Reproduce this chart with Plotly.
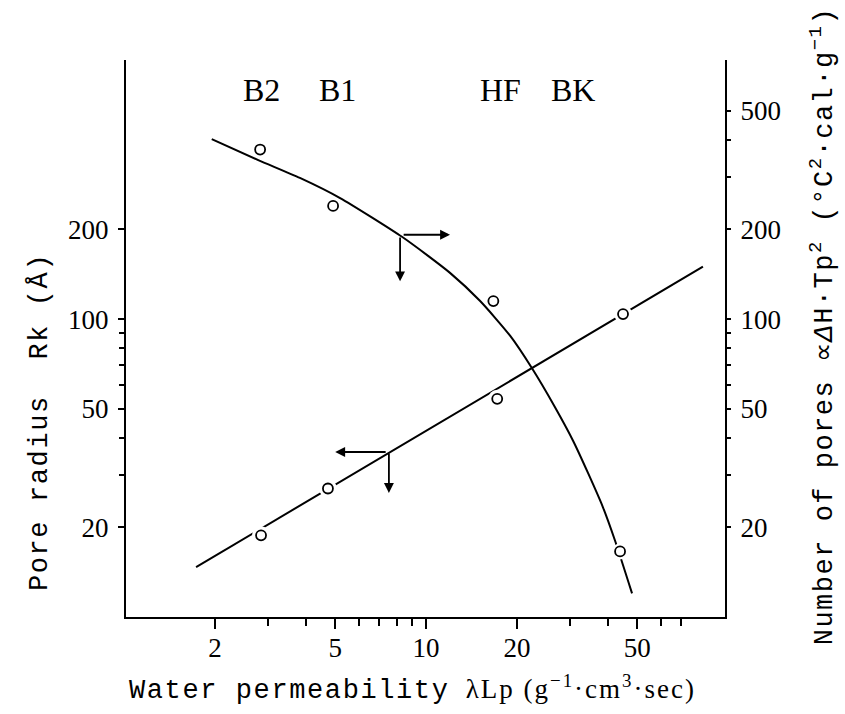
import numpy as np
import plotly.graph_objects as go

# ---------------- data ----------------
# Number of pores (right axis): measured points and fitted curve
pores_x = [2.82, 4.92, 16.7, 43.9]
pores_y = [371, 240, 115, 16.6]
pores_curve_x = [1.95, 2.78, 3.82, 5.19, 8.32, 12.0, 15.1, 19.0, 22.4, 26.7, 30.7, 34.4, 38.5, 42.2, 48.1]
pores_curve_y = [402, 342, 298, 255, 189, 143, 115, 87.8, 68.5, 50.7, 39.0, 30.4, 23.4, 18.1, 12.0]

# Pore radius Rk (left axis): measured points and fitted straight line
radius_x = [2.84, 4.73, 17.2, 44.9]
radius_y = [18.8, 27.0, 54.0, 104]
radius_line_x = [1.73, 82.6]
radius_line_y = [14.7, 150]

# Membrane labels
membranes = ["B2", "B1", "HF", "BK"]
membrane_x = [2.84, 5.1, 17.6, 30.7]
membrane_label_y = 590

# Direction arrows (tail -> head), in data units
arrow_tail_x = [8.33, 8.2, 7.43, 7.53]
arrow_tail_y = [192, 190, 35.8, 35.8]
arrow_head_x = [12.0, 8.2, 5.0, 7.53]
arrow_head_y = [192, 134, 35.8, 26.1]

# Ticks
x_ticks = [2, 5, 10, 20, 50]
x_minor = [3, 4, 6, 7, 8, 9, 30, 40, 60, 70]
yl_ticks = [20, 50, 100, 200]
yl_minor = [30, 40, 60, 70, 80, 90]
yr_ticks = [20, 50, 100, 200, 500]
yr_minor = [30, 40, 60, 70, 80, 90, 300, 400]

# ---------------- figure ----------------
SERIF = "Liberation Serif"
MONO = "Liberation Mono"

fig = go.Figure()

fig.add_trace(go.Scatter(x=radius_line_x, y=radius_line_y, mode="lines",
                         line=dict(color="black", width=2), yaxis="y", hoverinfo="skip"))
fig.add_trace(go.Scatter(x=radius_x, y=radius_y, mode="markers",
                         marker=dict(symbol="circle", size=18, color="white", line=dict(width=0)),
                         yaxis="y", hoverinfo="skip"))
fig.add_trace(go.Scatter(x=radius_x, y=radius_y, mode="markers",
                         marker=dict(symbol="circle-open", size=10, color="black", line=dict(width=1.8)),
                         yaxis="y"))

fig.add_trace(go.Scatter(x=pores_curve_x, y=pores_curve_y, mode="lines",
                         line=dict(color="black", width=2, shape="spline", smoothing=0.6),
                         yaxis="y2", hoverinfo="skip"))
fig.add_trace(go.Scatter(x=pores_x, y=pores_y, mode="markers",
                         marker=dict(symbol="circle", size=16, color="white", line=dict(width=0)),
                         yaxis="y2", hoverinfo="skip"))
fig.add_trace(go.Scatter(x=pores_x, y=pores_y, mode="markers",
                         marker=dict(symbol="circle-open", size=10, color="black", line=dict(width=1.8)),
                         yaxis="y2"))

tickfont = dict(family=SERIF, size=27, color="black")

fig.update_layout(
    width=845, height=714,
    margin=dict(l=126, r=120, t=60, b=97),
    plot_bgcolor="white", paper_bgcolor="white",
    showlegend=False,
    xaxis=dict(type="log", range=[0.006, 1.99], tickmode="array", tickvals=x_ticks,
               ticktext=[str(v) for v in x_ticks], ticks="outside", ticklen=10, tickwidth=2,
               tickcolor="black", showline=True, linewidth=2, linecolor="black",
               showgrid=False, zeroline=False, tickfont=tickfont, ticklabelstandoff=-4,
               minor=dict(tickmode="array", tickvals=x_minor, ticks="outside", ticklen=7,
                          tickwidth=2, tickcolor="black", showgrid=False)),
    yaxis=dict(type="log", range=[1.0, 2.87], tickmode="array", tickvals=yl_ticks,
               ticktext=[str(v) for v in yl_ticks], ticks="outside", ticklen=6, tickwidth=2,
               tickcolor="black", showline=True, linewidth=2, linecolor="black",
               showgrid=False, zeroline=False, tickfont=tickfont, ticklabelstandoff=4,
               minor=dict(tickmode="array", tickvals=yl_minor, ticks="outside", ticklen=5,
                          tickwidth=1.5, tickcolor="black", showgrid=False)),
    yaxis2=dict(type="log", range=[1.0, 2.87], overlaying="y", side="right", tickmode="array",
                tickvals=yr_ticks, ticktext=[str(v) for v in yr_ticks], ticks="outside",
                ticklen=4, tickwidth=2, tickcolor="black", showline=True, linewidth=2,
                linecolor="black", showgrid=False, zeroline=False, tickfont=tickfont,
                ticklabelstandoff=4,
                minor=dict(tickmode="array", tickvals=yr_minor, ticks="outside", ticklen=4,
                           tickwidth=1.5, tickcolor="black", showgrid=False)),
)

annotations = []
for name, mx in zip(membranes, membrane_x):
    annotations.append(dict(x=np.log10(mx), y=np.log10(membrane_label_y), xref="x", yref="y",
                            text=name, showarrow=False,
                            font=dict(family=SERIF, size=32, color="black")))

for tx, ty, hx, hy in zip(arrow_tail_x, arrow_tail_y, arrow_head_x, arrow_head_y):
    annotations.append(dict(x=np.log10(hx), y=np.log10(hy), ax=np.log10(tx), ay=np.log10(ty),
                            xref="x", yref="y", axref="x", ayref="y", text="",
                            showarrow=True, arrowhead=2, arrowsize=1.1, arrowwidth=1.8,
                            arrowcolor="black", standoff=0, startstandoff=0))

annotations.append(dict(
    x=0.479, y=-0.1275, xref="paper", yref="paper", showarrow=False,
    xanchor="center", yanchor="middle",
    text=("<span style=\"letter-spacing:1.6px\">Water permeability</span> "
          "<span style=\"font-family:'Liberation Serif';letter-spacing:2px\">"
          "λLp (g<sup>−1</sup>·cm<sup>3</sup>·sec)</span>"),
    font=dict(family=MONO, size=27, color="black")))

annotations.append(dict(
    x=-0.1436, y=0.350, xref="paper", yref="paper", showarrow=False, textangle=-90,
    xanchor="center", yanchor="middle",
    text="<span style=\"letter-spacing:1.6px\">Pore radius\u00a0\u00a0Rk (Å)</span>",
    font=dict(family=MONO, size=27, color="black")))

annotations.append(dict(
    x=1.162, y=0.522, xref="paper", yref="paper", showarrow=False, textangle=-90,
    xanchor="center", yanchor="middle",
    text=("<span style=\"letter-spacing:1.5px\">Number of pores ∝<i>Δ</i>H·Tp<sup>2</sup> "
          "(°C<sup>2</sup>·cal·g<sup>−1</sup>)</span>"),
    font=dict(family=MONO, size=27, color="black")))

fig.update_layout(annotations=annotations)

fig.write_html("out.html")
